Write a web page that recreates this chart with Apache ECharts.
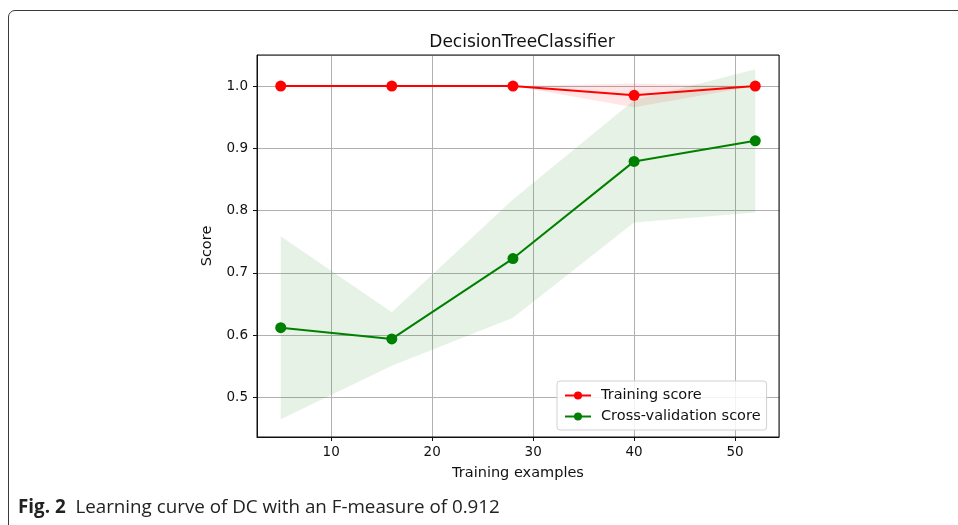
<!DOCTYPE html>
<html>
<head>
<meta charset="utf-8">
<script src="https://cdn.jsdelivr.net/npm/echarts@6/dist/echarts.min.js"></script>
<style>
  html, body { margin: 0; padding: 0; background: #fff; overflow: hidden; }
  #wrap { position: relative; width: 958px; height: 525px; overflow: hidden; }
  #frame { position: absolute; left: 8px; top: 10px; width: 1100px; height: 700px;
           border: 1px solid #3a3a3a; border-radius: 7px; box-sizing: border-box; }
  #chart { position: absolute; left: 0; top: 0; width: 958px; height: 525px; }
  #caption { position: absolute; left: 18px; top: 493px; font-family: "Liberation Sans Narrow", "Open Sans", sans-serif;
             font-size: 18.8px; color: #222; white-space: nowrap; }
  #caption b { font-weight: bold; }
</style>
</head>
<body>
<div id="wrap">
  <div id="frame"></div>
  <div id="chart"></div>
  <div id="caption"><b>Fig. 2</b>&nbsp; Learning curve of DC with an F-measure of 0.912</div>
</div>
<script>
// ---- data ----
var trainSizes = [5, 16, 28, 40, 52];
var trainMean = [1.0, 1.0, 1.0, 0.985, 1.0];
var trainStd = [0.0, 0.0, 0.0, 0.019, 0.0];
var cvMean = [0.612, 0.594, 0.723, 0.879, 0.912];
var cvStd = [0.147, 0.043, 0.095, 0.098, 0.115];
var xRange = [2.65, 54.35];
var yRange = [0.4366, 1.0498];

function pairs(xs, ys) { return xs.map(function (x, i) { return [x, ys[i]]; }); }

function bandSeries(name, mean, std, color) {
  return {
    type: 'custom',
    name: name + ' band',
    silent: true,
    z: 1,
    data: [[trainSizes[0], mean[0]]],
    renderItem: function (params, api) {
      var pts = [];
      for (var i = 0; i < trainSizes.length; i++) pts.push(api.coord([trainSizes[i], mean[i] + std[i]]));
      for (var j = trainSizes.length - 1; j >= 0; j--) pts.push(api.coord([trainSizes[j], mean[j] - std[j]]));
      return {
        type: 'polygon',
        shape: { points: pts },
        style: { fill: color, opacity: 0.1 },
        clipPath: { type: 'rect', shape: { x: params.coordSys.x, y: params.coordSys.y, width: params.coordSys.width, height: params.coordSys.height } }
      };
    }
  };
}

var chart = echarts.init(document.getElementById('chart'), null, { renderer: 'canvas' });
var font = 'DejaVu Sans';
chart.setOption({
  animation: false,
  title: {
    text: 'DecisionTreeClassifier',
    left: 517, top: 29, textAlign: 'center',
    textStyle: { fontFamily: font, fontSize: 17, fontWeight: 'normal', color: '#111' }
  },
  grid: { left: 257, right: 179, top: 55, bottom: 88, show: true, borderColor: '#111', borderWidth: 1, backgroundColor: 'transparent', z: 5 },
  legend: {
    orient: 'vertical', left: 557, top: 381,
    data: ['Training score', 'Cross-validation score'],
    itemWidth: 26, itemHeight: 10, itemGap: 6,
    padding: [7, 6, 6, 7],
    backgroundColor: 'rgba(255,255,255,0.85)', borderColor: '#d0d0d0', borderWidth: 1, borderRadius: 3,
    textStyle: { fontFamily: font, fontSize: 14.5, color: '#111', padding: [0, 0, 0, 5] }
  },
  xAxis: {
    type: 'value', min: xRange[0], max: xRange[1],
    name: 'Training examples', nameLocation: 'middle', nameGap: 29,
    nameTextStyle: { fontFamily: font, fontSize: 14.5, color: '#111' },
    axisLine: { show: true, onZero: false, lineStyle: { color: '#111' } },
    axisTick: { show: true, length: 4, lineStyle: { color: '#111' } },
    axisLabel: { fontFamily: font, fontSize: 13.5, color: '#111', margin: 8, showMinLabel: false, showMaxLabel: false },
    splitLine: { show: true, lineStyle: { color: '#b0b0b0', width: 1 } }
  },
  yAxis: {
    type: 'value', min: yRange[0], max: yRange[1],
    name: 'Score', nameLocation: 'middle', nameGap: 42,
    nameTextStyle: { fontFamily: font, fontSize: 14.5, color: '#111' },
    axisLine: { show: true, onZero: false, lineStyle: { color: '#111' } },
    axisTick: { show: true, length: 4, lineStyle: { color: '#111' } },
    axisLabel: { fontFamily: font, fontSize: 13.5, color: '#111', margin: 9, showMinLabel: false, showMaxLabel: false,
                 formatter: function (v) { return v.toFixed(1); } },
    splitLine: { show: true, lineStyle: { color: '#b0b0b0', width: 1 } }
  },
  series: [
    bandSeries('Training score', trainMean, trainStd, '#ff0000'),
    bandSeries('Cross-validation score', cvMean, cvStd, '#008000'),
    {
      type: 'line', name: 'Training score', z: 3,
      data: pairs(trainSizes, trainMean),
      symbol: 'circle', symbolSize: 11,
      lineStyle: { color: '#ff0000', width: 2 },
      itemStyle: { color: '#ff0000' }
    },
    {
      type: 'line', name: 'Cross-validation score', z: 3,
      data: pairs(trainSizes, cvMean),
      symbol: 'circle', symbolSize: 11,
      lineStyle: { color: '#008000', width: 2 },
      itemStyle: { color: '#008000' }
    }
  ]
});
</script>
</body>
</html>
